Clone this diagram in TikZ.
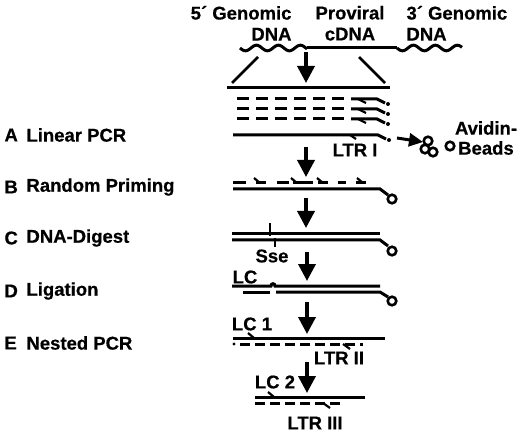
\documentclass[tikz,border=0pt]{standalone}
\usepackage{fontspec}
\setmainfont{Liberation Sans}[BoldFeatures={FakeBold=0.5}]
\usetikzlibrary{arrows.meta}
\begin{document}
\begin{tikzpicture}[x=1pt,y=-1pt,line width=3pt,
  lab/.style={font=\fontsize{18.5}{21}\selectfont\bfseries,inner sep=0pt},
  down/.style={-{Triangle[length=17pt,width=17pt]},line width=3.6pt},
  side/.style={-{Triangle[length=14pt,width=13pt]},line width=3pt},
  dsh/.style={dash pattern=on 12pt off 7pt},
  fdsh/.style={dash pattern=on 10pt off 5pt},
  barb/.style={line width=2.2pt},
  bead/.style={line width=2.6pt}]
\useasboundingbox (0,0) rectangle (520,433);
% titles
\node[lab,align=right,anchor=north east] (gen5) at (293,4.5) {5´ Genomic\\DNA};
\node[lab,align=center,anchor=north] (prov) at (350,4.5) {Proviral\\cDNA};
\node[lab,align=left,anchor=north west] (gen3) at (405,4.5) {3´ Genomic\\DNA};
\draw plot[domain=240:307,samples=60,smooth] (\x,{48+2.8*sin(16.4*(\x-240))});
\draw (307,48) -- (397,48);
\draw plot[domain=397:462,samples=60,smooth] (\x,{48+2.8*sin(16.4*(\x-397))});
\draw[line width=2.6pt] (258,57) -- (232,83);
\draw[line width=2.6pt] (359,57) -- (385,83);
\draw[down] (306,52) -- (306,83);
% linear PCR
\draw (227,88) -- (390,88);
\draw[dsh] (237,99) -- (345,99);
\draw (351,99) -- (377,99) -- (385,103);
\draw[barb] (358,99) -- (366,103);
\fill (388,104) circle (2pt);
\draw[dsh] (237,109) -- (345,109);
\draw (351,109) -- (377,109) -- (385,113);
\draw[barb] (358,109) -- (366,113);
\fill (388,114) circle (2pt);
\draw[dsh] (237,119) -- (345,119);
\draw (351,119) -- (377,119) -- (385,123);
\draw[barb] (358,119) -- (366,123);
\fill (388,124) circle (2pt);
\draw (233,135) -- (378,135) -- (386,139);
\draw[barb] (350,135) -- (356,139);
\fill (389,140) circle (2pt);
\node[lab] (ltr1) at (355,150) {LTR I};
\draw[side] (397,138) -- (423,142);
\draw[bead] (428,141) circle (4.3pt);
\draw[bead] (425,149) circle (4.3pt);
\draw[bead] (433,152) circle (4.3pt);
\draw[bead] (450,146) circle (4.3pt);
\node[lab] (avid) at (486,128) {Avidin-};
\node[lab] (beads) at (486,148) {Beads};
\draw[down] (306,147) -- (306,177);
% random priming
\draw (233,183) -- (246,183);
\draw (256,183) -- (266,183);
\draw (277,183) -- (289,183);
\draw (293,183) -- (313,183);
\draw (318,183) -- (328,183);
\draw (338,183) -- (346,183);
\draw (356,183) -- (366,183);
\draw[barb] (260,183) -- (254,178);
\draw[barb] (297,183) -- (291,178);
\draw[barb] (323,183) -- (317,178);
\draw[barb] (363,183) -- (357,178);
\draw (233,189) -- (380,189) -- (388,195);
\draw[bead] (392,199) circle (4.3pt);
\draw[down] (306,198) -- (306,228);
% DNA digest
\draw (232,234) -- (380,234);
\draw (232,240) -- (380,240) -- (388,246);
\draw[bead] (392,251) circle (4.3pt);
\draw[barb] (270,223) -- (270,236);
\draw[barb] (275,238) -- (275,247);
\node[lab] (sse) at (272,256) {Sse};
\draw[down] (307,252) -- (307,281);
% ligation
\node[lab] (lc) at (245,277) {LC};
\draw (232,286) -- (271,286) .. controls (271,283) and (275,283) .. (275,286) -- (380,286);
\draw (243,292) -- (270,292);
\draw (276,292) -- (380,292) -- (388,297);
\draw[bead] (392,301) circle (4.3pt);
\draw[down] (307,302) -- (307,334);
% nested PCR
\node[lab] (lc1) at (252,324) {LC 1};
\draw (233,338) -- (385,338);
\draw[barb] (254,338) -- (248,333);
\fill (234,344) circle (1.6pt);
\draw[fdsh] (240,344) -- (363,344);
\draw[barb] (343,344) -- (350,349);
\node[lab] (ltr2) at (339,358) {LTR II};
\draw[down] (307,362) -- (307,393);
\node[lab] (lc2) at (275,382) {LC 2};
\draw (255,397) -- (365,397);
\draw[barb] (274,397) -- (268,392);
\draw[fdsh] (255,403) -- (343,403);
\draw[barb] (323,403) -- (330,408);
\node[lab] (ltr3) at (315,423) {LTR III};
% step labels
\node[lab,anchor=west] (kA) at (3,135) {A};
\node[lab,anchor=west] (tA) at (25,135) {Linear PCR};
\node[lab,anchor=west] (kB) at (3,187) {B};
\node[lab,anchor=west] (tB) at (25,187) {Random Priming};
\node[lab,anchor=west] (kC) at (3,238) {C};
\node[lab,anchor=west] (tC) at (25,238) {DNA-Digest};
\node[lab,anchor=west] (kD) at (3,291) {D};
\node[lab,anchor=west] (tD) at (25,291) {Ligation};
\node[lab,anchor=west] (kE) at (3,343) {E};
\node[lab,anchor=west] (tE) at (25,343) {Nested PCR};
\end{tikzpicture}
\end{document}
